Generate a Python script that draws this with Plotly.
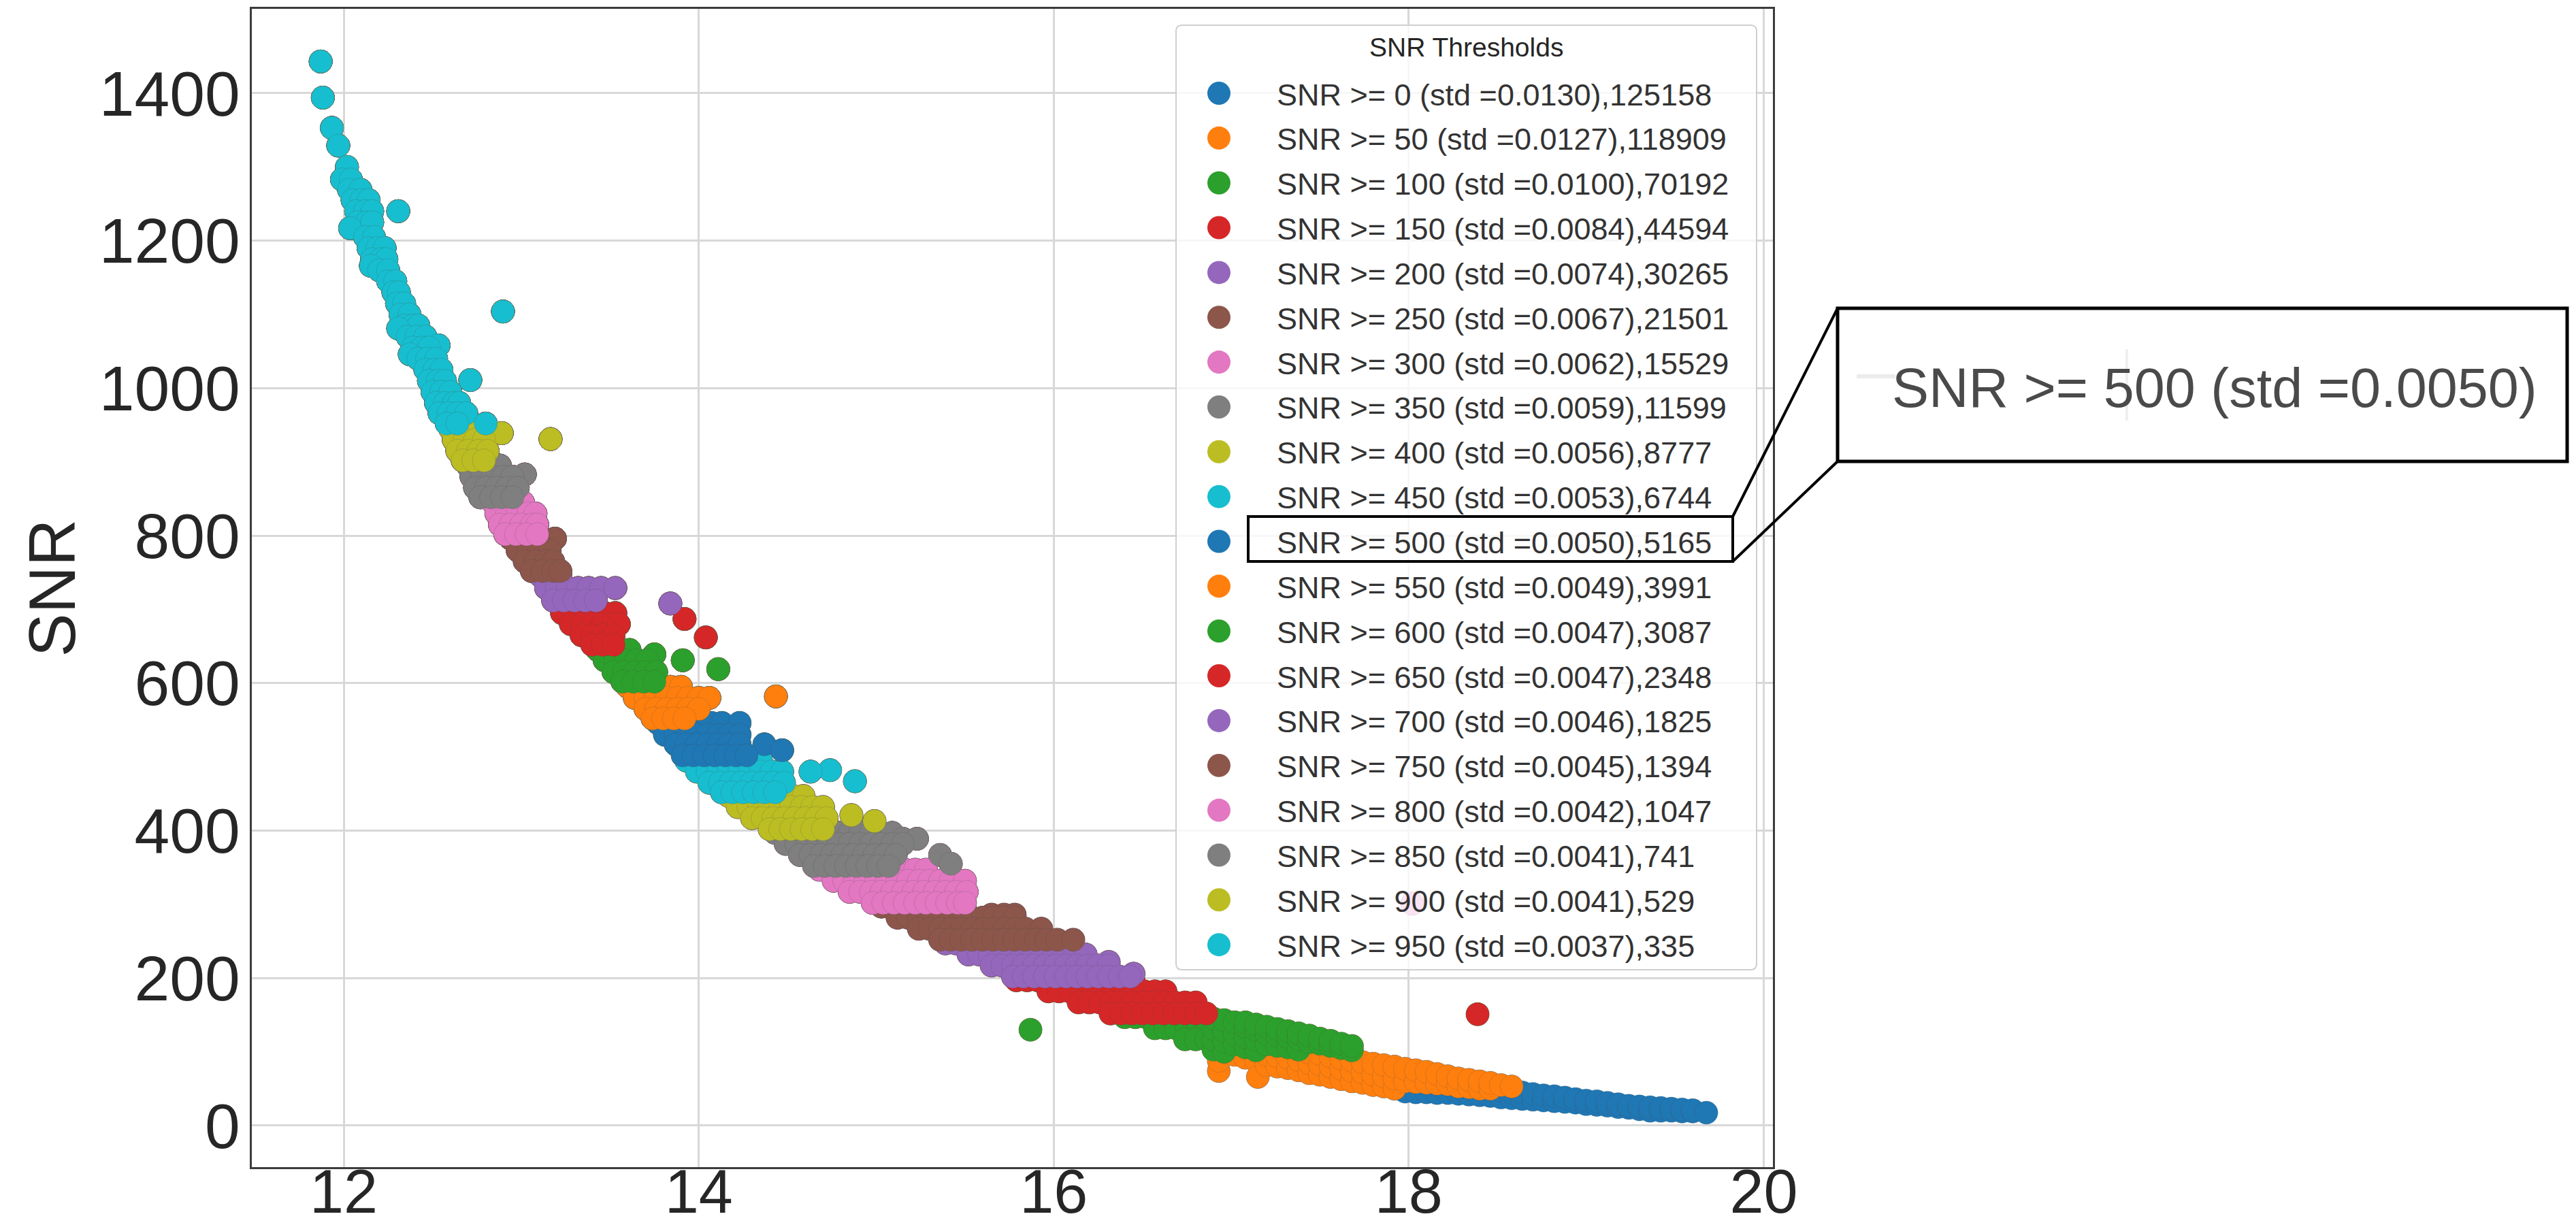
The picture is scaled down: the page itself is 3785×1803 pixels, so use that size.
import plotly.graph_objects as go

# ---------------------------------------------------------------- data
thresholds = [0, 50, 100, 150, 200, 250, 300, 350, 400, 450,
              500, 550, 600, 650, 700, 750, 800, 850, 900, 950]
std_values = ["0.0130", "0.0127", "0.0100", "0.0084", "0.0074", "0.0067", "0.0062",
              "0.0059", "0.0056", "0.0053", "0.0050", "0.0049", "0.0047", "0.0047",
              "0.0046", "0.0045", "0.0042", "0.0041", "0.0041", "0.0037"]
point_counts = [125158, 118909, 70192, 44594, 30265, 21501, 15529, 11599, 8777, 6744,
                5165, 3991, 3087, 2348, 1825, 1394, 1047, 741, 529, 335]

# steep part of the cloud, read row by row (SNR level -> x positions of points)
row_snr = [1443, 1394, 1353, 1329, 1300, 1283, 1269, 1255, 1240, 1225, 1217, 1205, 1190,
           1175, 1166, 1160, 1145, 1130, 1115, 1104, 1100, 1085, 1081, 1070, 1058, 1055,
           1046, 1040, 1025, 1011, 1010, 995, 980, 966, 952,
           945, 939, 931, 930, 915, 902,
           895, 883, 880, 865, 852,
           845, 830, 815, 802,
           796, 780, 765, 752,
           745, 729, 712, 708,
           695, 687, 680, 665, 662, 652,
           645, 639, 631, 619, 615, 602,
           595, 582, 580, 565, 552,
           546, 530, 517, 509, 502,
           495, 482, 480, 467, 465, 452,
           447, 432, 421, 417, 413, 402,
           397, 389, 382, 367, 355, 352,
           347, 332, 317, 302, 301,
           297, 286, 282, 267, 252,
           247, 232, 222, 217, 206, 202,
           197, 182, 167, 152, 151,
           147, 132, 130, 117]
row_x = [
    [11.870], [11.882], [11.933], [11.969], [12.018], [11.990, 12.040], [12.030, 12.094],
    [12.050, 12.100, 12.140], [12.070, 12.120, 12.160, 12.307], [12.080, 12.130, 12.160],
    [12.036], [12.120, 12.170], [12.140, 12.190, 12.230], [12.160, 12.210, 12.240],
    [12.153], [12.200, 12.250], [12.250, 12.290], [12.280, 12.310], [12.300, 12.340],
    [12.897], [12.320, 12.370], [12.340, 12.390, 12.420], [12.307],
    [12.360, 12.410, 12.460], [12.534], [12.390, 12.440, 12.480], [12.372],
    [12.420, 12.470, 12.520], [12.460, 12.510, 12.550], [12.713], [12.480, 12.530, 12.570],
    [12.500, 12.550, 12.600], [12.520, 12.570, 12.620, 12.650],
    [12.540, 12.590, 12.640, 12.690], [12.580, 12.640, 12.800],
    # olive 900
    [12.600, 12.660, 12.720], [12.890], [13.165], [12.620, 12.680, 12.740, 12.790],
    [12.640, 12.700, 12.760, 12.810], [12.670, 12.730, 12.790],
    # gray 850
    [12.700, 12.760, 12.820, 12.880], [13.020], [12.720, 12.780, 12.840, 12.900, 12.950],
    [12.740, 12.800, 12.860, 12.920, 12.980], [12.770, 12.830, 12.890, 12.950],
    # pink 800
    [12.840, 12.900, 12.960, 13.010], [12.860, 12.920, 12.980, 13.040, 13.080],
    [12.880, 12.940, 13.000, 13.060, 13.090], [12.910, 12.970, 13.030, 13.090],
    # brown 750
    [12.940, 13.000, 13.060, 13.120, 13.190], [12.980, 13.040, 13.100, 13.160],
    [13.020, 13.080, 13.140, 13.180], [13.060, 13.120, 13.180, 13.220],
    # purple 700
    [13.110, 13.170, 13.220], [13.140, 13.200, 13.260, 13.320, 13.380, 13.450, 13.530],
    [13.180, 13.240, 13.300, 13.360, 13.420], [13.840],
    # red 650
    [13.230, 13.290, 13.350, 13.410, 13.470, 13.530], [13.920],
    [13.280, 13.340, 13.400, 13.460, 13.520, 13.550], [13.340, 13.400, 13.460, 13.520],
    [14.040], [13.400, 13.460, 13.520],
    # green 600
    [13.430, 13.490, 13.550, 13.610], [13.750],
    [13.470, 13.530, 13.590, 13.650, 13.710, 13.910], [14.110],
    [13.520, 13.580, 13.640, 13.700, 13.760], [13.570, 13.630, 13.690, 13.750],
    # orange 550
    [13.600, 13.660, 13.720, 13.780, 13.840, 13.900], [14.435],
    [13.640, 13.700, 13.760, 13.820, 13.880, 13.940, 14.000, 14.060],
    [13.700, 13.760, 13.820, 13.880, 13.940, 14.000], [13.740, 13.800, 13.860, 13.920],
    # blue 500
    [13.770, 13.830, 13.890, 13.950, 14.010, 14.070, 14.130, 14.230],
    [13.810, 13.870, 13.930, 13.990, 14.050, 14.110, 14.170, 14.230],
    [13.870, 13.930, 13.990, 14.050, 14.110, 14.170, 14.230, 14.370], [14.470],
    [13.910, 13.970, 14.030, 14.090, 14.150, 14.210, 14.270],
    # cyan 450
    [13.930, 13.990, 14.050, 14.110, 14.170, 14.230, 14.290, 14.350], [14.740],
    [13.990, 14.050, 14.110, 14.170, 14.230, 14.290, 14.350, 14.410, 14.470, 14.630],
    [14.880], [14.060, 14.120, 14.180, 14.240, 14.300, 14.360, 14.420, 14.480],
    [14.130, 14.190, 14.250, 14.310, 14.370, 14.430],
    # olive 400
    [14.170, 14.230, 14.290, 14.350, 14.410, 14.470, 14.530, 14.590],
    [14.220, 14.280, 14.340, 14.400, 14.460, 14.520, 14.580, 14.640, 14.700], [14.860],
    [14.300, 14.360, 14.420, 14.480, 14.540, 14.600, 14.660, 14.720], [14.990],
    [14.400, 14.460, 14.520, 14.580, 14.640, 14.700],
    # gray 350
    [14.43, 14.49, 14.55, 14.61, 14.67, 14.73, 14.79, 14.85, 14.91, 14.97, 15.03, 15.09],
    [15.15, 15.23],
    [14.49, 14.55, 14.61, 14.67, 14.73, 14.79, 14.85, 14.91, 14.97, 15.03, 15.09, 15.15],
    [14.57, 14.63, 14.69, 14.75, 14.81, 14.87, 14.93, 14.99, 15.05, 15.11, 15.36],
    [15.42], [14.65, 14.71, 14.77, 14.83, 14.89, 14.95, 15.01, 15.07],
    # pink 300
    [14.68, 14.74, 14.80, 14.86, 14.92, 14.98, 15.04, 15.10, 15.16, 15.22, 15.28],
    [14.76, 14.82, 14.88, 14.94, 15.00, 15.06, 15.12, 15.18, 15.24, 15.30, 15.36, 15.42, 15.50],
    [14.85, 14.91, 14.97, 15.03, 15.09, 15.15, 15.21, 15.27, 15.33, 15.39, 15.45, 15.51],
    [14.98, 15.04, 15.10, 15.16, 15.22, 15.28, 15.34, 15.40, 15.46, 15.50], [18.02],
    # brown 250
    [15.03, 15.09, 15.15, 15.21, 15.27, 15.33, 15.39, 15.45], [15.65, 15.72, 15.78],
    [15.12, 15.18, 15.24, 15.30, 15.36, 15.42, 15.48, 15.54, 15.60, 15.66, 15.72, 15.78],
    [15.24, 15.30, 15.36, 15.42, 15.48, 15.54, 15.60, 15.66, 15.72, 15.78, 15.84, 15.93],
    [15.36, 15.42, 15.48, 15.54, 15.60, 15.66, 15.72, 15.78, 15.84, 15.90, 15.96, 16.02, 16.11],
    # purple 200
    [15.39, 15.45, 15.51, 15.57, 15.63, 15.69, 15.75, 15.81, 15.87, 15.93, 15.99, 16.05],
    [15.52, 15.58, 15.64, 15.70, 15.76, 15.82, 15.88, 15.94, 16.00, 16.06, 16.12, 16.18],
    [16.31],
    [15.65, 15.71, 15.77, 15.83, 15.89, 15.95, 16.01, 16.07, 16.13, 16.19, 16.25, 16.31],
    [16.45],
    [15.77, 15.83, 15.89, 15.95, 16.01, 16.07, 16.13, 16.19, 16.25, 16.31, 16.37, 16.43],
    # red 150
    [15.79, 15.85, 15.91, 15.97, 16.03, 16.09, 16.15, 16.21, 16.27, 16.33, 16.39, 16.45],
    [15.97, 16.03, 16.09, 16.15, 16.21, 16.27, 16.33, 16.39, 16.45, 16.51, 16.57, 16.63],
    [16.14, 16.20, 16.26, 16.32, 16.38, 16.44, 16.50, 16.56, 16.62, 16.68, 16.74, 16.80],
    [16.32, 16.38, 16.44, 16.50, 16.56, 16.62, 16.68, 16.74, 16.80, 16.86], [18.388],
    # green 100
    [16.40, 16.46, 16.52, 16.58, 16.64, 16.70, 16.76, 16.82, 16.88],
    [16.57, 16.63, 16.69, 16.75, 16.81, 16.87], [15.869], [16.74, 16.80, 16.86],
]

# flat tail of the cloud, read column by column (x -> SNR of points)
col_x = [16.90, 16.93, 16.96, 17.02, 17.08, 17.14, 17.15, 17.20, 17.26, 17.32, 17.38,
         17.44, 17.50, 17.56, 17.62, 17.68, 17.74, 17.80, 17.86, 17.92, 17.98, 18.04,
         18.10, 18.16, 18.22, 18.28, 18.34, 18.40, 18.46, 18.52, 18.58, 18.64, 18.70,
         18.76, 18.82, 18.88, 18.94, 19.00, 19.06, 19.12, 19.18, 19.24, 19.30, 19.36,
         19.42, 19.48, 19.54, 19.60, 19.677]
col_snr = [
    [103, 117, 131, 145], [74, 88], [100, 114, 128, 143], [96, 110, 124, 140],
    [92, 106, 120, 134, 140], [88, 102, 116, 130, 137], [66], [82, 96, 110, 124, 134],
    [80, 94, 108, 122, 131], [78, 92, 106, 120, 128], [75, 89, 103, 117, 125],
    [71, 85, 99, 113, 122], [69, 83, 97, 111, 118], [66, 80, 94, 108, 115],
    [63, 77, 91, 105, 111], [60, 74, 88, 102, 108], [58, 72, 86], [55, 69, 84],
    [53, 67, 82], [50, 64, 80], [46, 60, 77], [45, 59, 75], [45, 58, 73], [44, 57, 70],
    [44, 56, 67], [43, 53, 64], [42, 52, 62], [41, 50, 60], [40, 50, 58], [38, 47, 55],
    [37, 45, 53], [36, 45], [35, 43], [34, 41], [33, 40], [32, 38], [31, 36], [29, 34],
    [28, 33], [27, 31], [25, 29], [24, 27], [22, 26], [20, 25], [20, 24], [20, 23],
    [19, 22], [19, 21], [17.6],
]

x_ticks = [12, 14, 16, 18, 20]
y_ticks = [0, 200, 400, 600, 800, 1000, 1200, 1400]
colors = ["#1f77b4", "#ff7f0e", "#2ca02c", "#d62728", "#9467bd",
          "#8c564b", "#e377c2", "#7f7f7f", "#bcbd22", "#17becf"]

# ---------------------------------------------------------------- points
pts_x, pts_y = [], []
for s, xs in zip(row_snr, row_x):
    for xv in xs:
        pts_x.append(xv)
        pts_y.append(s)
for xv, ss in zip(col_x, col_snr):
    for s in ss:
        pts_x.append(xv)
        pts_y.append(s)

labels = [f"SNR >= {t} (std ={sd}),{n}" for t, sd, n in zip(thresholds, std_values, point_counts)]

# ---------------------------------------------------------------- figure
W, H = 3785, 1803
PL, PR, PT, PB = 370, 2605, 13, 1715
FONT = "Liberation Sans, Arial, sans-serif"


def PX(v):
    return v / W


def PY(v):
    return 1 - v / H


fig = go.Figure()
for i, t in enumerate(thresholds):
    sel = [k for k, s in enumerate(pts_y) if s >= t]
    fig.add_trace(go.Scatter(
        x=[pts_x[k] for k in sel], y=[pts_y[k] for k in sel], mode="markers",
        name=labels[i], showlegend=False, hoverinfo="skip",
        marker=dict(size=34, color=colors[i % 10],
                    line=dict(width=1, color="rgba(70,70,70,0.2)")),
    ))

axis_common = dict(showgrid=True, gridcolor="#d8d8d8", gridwidth=2.5, zeroline=False,
                   showline=True, mirror=True, linecolor="#3c3c3c", linewidth=2.5,
                   ticks="")
fig.update_xaxes(domain=[PX(PL), PX(PR)], range=[11.482, 20.052], tickvals=x_ticks,
                 ticktext=[str(v) for v in x_ticks], automargin=False,
                 ticklabelstandoff=-44,
                 tickfont=dict(family=FONT, size=90, color="#262626"), **axis_common)
fig.update_yaxes(domain=[PY(PB), PY(PT)], range=[-56.3, 1514.4], tickvals=y_ticks,
                 ticktext=[str(v) for v in y_ticks], automargin=False,
                 ticklabelstandoff=-4,
                 tickfont=dict(family=FONT, size=93, color="#262626"),
                 title=dict(text="SNR", font=dict(family=FONT, size=96, color="#262626"),
                            standoff=4),
                 **axis_common)

shapes = []
annotations = []

# legend box (rounded, semi-transparent like matplotlib)
lx0, ly0, lx1, ly1, rr = 1728, 37, 2581, 1425, 9
path = (f"M {PX(lx0+rr)},{PY(ly0)} L {PX(lx1-rr)},{PY(ly0)} Q {PX(lx1)},{PY(ly0)} {PX(lx1)},{PY(ly0+rr)} "
        f"L {PX(lx1)},{PY(ly1-rr)} Q {PX(lx1)},{PY(ly1)} {PX(lx1-rr)},{PY(ly1)} "
        f"L {PX(lx0+rr)},{PY(ly1)} Q {PX(lx0)},{PY(ly1)} {PX(lx0)},{PY(ly1-rr)} "
        f"L {PX(lx0)},{PY(ly0+rr)} Q {PX(lx0)},{PY(ly0)} {PX(lx0+rr)},{PY(ly0)} Z")
shapes.append(dict(type="path", path=path, xref="paper", yref="paper", layer="above",
                   fillcolor="rgba(255,255,255,0.8)", line=dict(color="#cfcfcf", width=2)))
annotations.append(dict(text="SNR Thresholds", x=PX((lx0 + lx1) / 2), y=PY(70),
                        xref="paper", yref="paper", showarrow=False, xanchor="center",
                        yanchor="middle", font=dict(family=FONT, size=39, color="#262626")))
row0, gap, dot_cx, dot_r, text_x = 137, 65.85, 1791, 17, 1874
for i, lab in enumerate(labels):
    cy = row0 + i * gap
    shapes.append(dict(type="circle", xref="paper", yref="paper", layer="above",
                       x0=PX(dot_cx - dot_r), x1=PX(dot_cx + dot_r),
                       y0=PY(cy + dot_r), y1=PY(cy - dot_r),
                       fillcolor=colors[i % 10], line=dict(width=0)))
    annotations.append(dict(text=lab, x=PX(text_x), y=PY(cy + 2), xref="paper", yref="paper",
                            showarrow=False, xanchor="left", yanchor="middle",
                            font=dict(family=FONT, size=45, color="#333333")))

# callout: highlight box, connector lines and magnified text
bx0, by0, bx1, by1 = 1834, 759, 2546, 825
cx0, cy0, cx1, cy1 = 2700, 453, 3772, 678
shapes.append(dict(type="rect", xref="paper", yref="paper", layer="above",
                   x0=PX(bx0), x1=PX(bx1), y0=PY(by1), y1=PY(by0),
                   line=dict(color="black", width=4)))
shapes.append(dict(type="line", xref="paper", yref="paper", layer="above",
                   x0=PX(bx1), y0=PY(by0), x1=PX(cx0), y1=PY(cy0),
                   line=dict(color="black", width=4)))
shapes.append(dict(type="line", xref="paper", yref="paper", layer="above",
                   x0=PX(bx1), y0=PY(by1), x1=PX(cx0), y1=PY(cy1),
                   line=dict(color="black", width=4)))
shapes.append(dict(type="line", xref="paper", yref="paper", layer="below",
                   x0=PX(2728), y0=PY(553), x1=PX(2785), y1=PY(553),
                   line=dict(color="#ececec", width=6)))
shapes.append(dict(type="line", xref="paper", yref="paper", layer="below",
                   x0=PX(3125), y0=PY(513), x1=PX(3125), y1=PY(618),
                   line=dict(color="#efefef", width=4)))
shapes.append(dict(type="rect", xref="paper", yref="paper", layer="above",
                   x0=PX(cx0), x1=PX(cx1), y0=PY(cy1), y1=PY(cy0),
                   line=dict(color="black", width=5)))
annotations.append(dict(text="SNR >= 500 (std =0.0050)", x=PX(2778), y=PY(570),
                        xref="paper", yref="paper", showarrow=False, xanchor="left",
                        yanchor="middle", font=dict(family=FONT, size=81, color="#4a4a4a")))

fig.update_layout(width=W, height=H, autosize=False,
                  margin=dict(l=0, r=0, t=0, b=0, pad=0),
                  paper_bgcolor="white", plot_bgcolor="white",
                  showlegend=False, shapes=shapes, annotations=annotations,
                  font=dict(family=FONT, color="#262626"))

fig.write_html("out.html")
